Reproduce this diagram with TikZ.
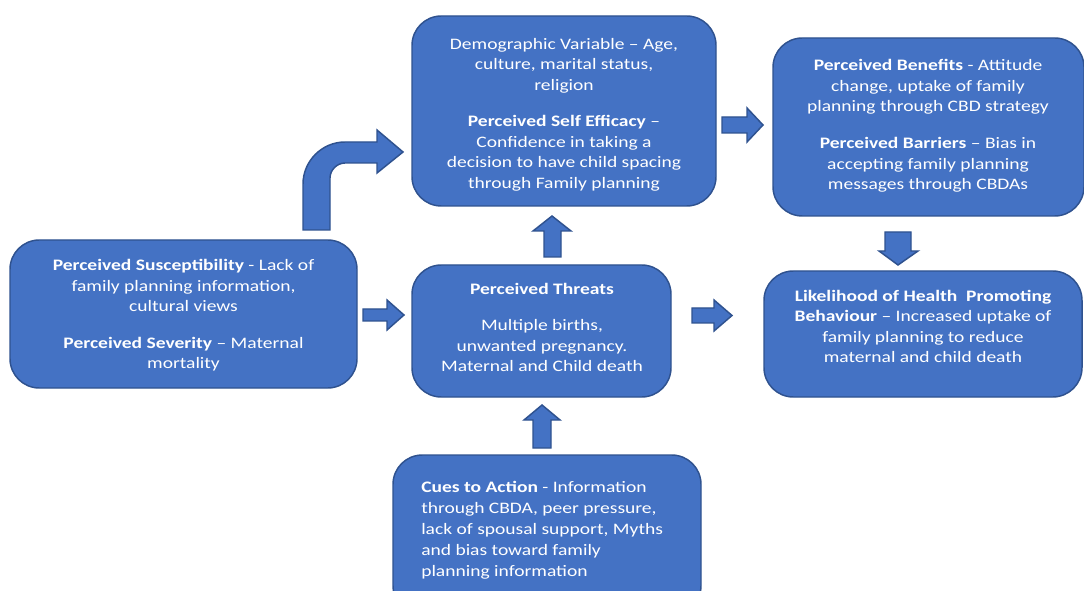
\documentclass[tikz,border=0pt]{standalone}
\usepackage{fontspec}
\setmainfont{Carlito}[FakeStretch=1.22]
\definecolor{boxfill}{HTML}{4472C4}
\definecolor{boxline}{HTML}{2F528F}
\begin{document}
\begin{tikzpicture}[x=0.75pt,y=-0.75pt,
  box/.style={draw=boxline, line width=1.1pt, fill=boxfill, rounded corners=22pt, inner sep=0pt},
  txt/.style={text=white, align=center, font=\fontsize{12}{15.4}\selectfont, inner sep=0pt},
  blockarrow/.style={draw=boxline, line width=1.1pt, fill=boxfill, line join=miter}]
\useasboundingbox[fill=white] (0,0) rectangle (1084,591);

% boxes
\node[box, minimum width=260.25pt, minimum height=111pt] (A) at (183.5,314) {};
\node[box, minimum width=228pt, minimum height=142.5pt] (B) at (564,111) {};
\node[box, minimum width=233.25pt, minimum height=133.5pt] (C) at (928.5,127) {};
\node[box, minimum width=194.25pt, minimum height=99pt] (D) at (541.5,331) {};
\node[box, minimum width=238.5pt, minimum height=94.5pt] (E) at (923,334) {};
\node[box, minimum width=231pt, minimum height=120pt] (F) at (547,535) {};

% texts
\node[txt] (Atext) at (183.5,315.5) {\textbf{Perceived Susceptibility} - Lack of\\family planning information,\\cultural views\\[12pt]\textbf{Perceived Severity} – Maternal\\mortality};
\node[txt] (Btext) at (564,114.5) {Demographic Variable – Age,\\culture, marital status,\\religion\\[12pt]\textbf{Perceived Self Efficacy} –\\Confidence in taking a\\decision to have child spacing\\through Family planning};
\node[txt] (Ctext) at (928,126) {\textbf{Perceived Benefits} - Attitude\\change, uptake of family\\planning through CBD strategy\\[12pt]\textbf{Perceived Barriers} – Bias in\\accepting family planning\\messages through CBDAs};
\node[txt] (Dtext) at (542,327.5) {\textbf{Perceived Threats}\\[12pt]Multiple births,\\unwanted pregnancy.\\Maternal and Child death};
\node[txt] (Etext) at (923,326.5) {\textbf{Likelihood of Health\ \ Promoting}\\\textbf{Behaviour} – Increased uptake of\\family planning to reduce\\maternal and child death};
\node[txt, align=left, anchor=west, font=\fontsize{12}{15.8}\selectfont] (Ftext) at (421,530) {\textbf{Cues to Action} - Information\\through CBDA, peer pressure,\\lack of spousal support, Myths\\and bias toward family\\planning information};

% bent arrow A -> B
\draw[blockarrow] (303,230) -- (303,184) .. controls (303,161) and (322,142) .. (345,142)
  -- (377,142) -- (377,130) -- (403,152) -- (377,173) -- (377,163) -- (345,163)
  .. controls (337,163) and (330,170) .. (330,178) -- (330,230) -- cycle;

% A -> D
\draw[blockarrow] (363,309) -- (387,309) -- (387,300) -- (404,315) -- (387,330) -- (387,321) -- (363,321) -- cycle;
% D -> E
\draw[blockarrow] (692,308) -- (714,308) -- (714,300) -- (732,315.5) -- (714,331) -- (714,323) -- (692,323) -- cycle;
% B -> C
\draw[blockarrow] (722,117) -- (747,117) -- (747,108) -- (763,125) -- (747,142) -- (747,133) -- (722,133) -- cycle;
% D -> B (up)
\draw[blockarrow] (544,257) -- (544,231) -- (533,231) -- (552,216) -- (571,231) -- (561,231) -- (561,257) -- cycle;
% C -> E (down)
\draw[blockarrow] (885,232) -- (885,251) -- (879,251) -- (898,265) -- (918,251) -- (911,251) -- (911,232) -- cycle;
% F -> D (up)
\draw[blockarrow] (533,448) -- (533,420) -- (524,420) -- (542,405) -- (560,420) -- (551,420) -- (551,448) -- cycle;
\end{tikzpicture}
\end{document}
